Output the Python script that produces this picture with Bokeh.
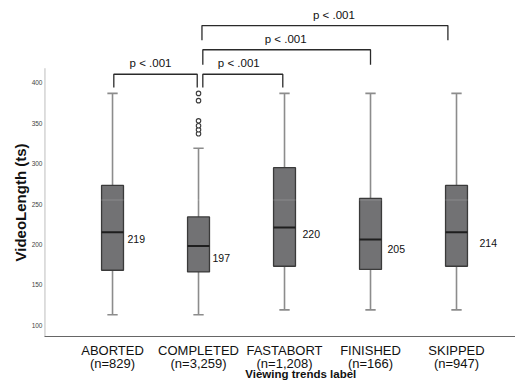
from bokeh.plotting import figure
from bokeh.models import Range1d, FixedTicker, ColumnDataSource, Span, Title
from bokeh.embed import file_html
from bokeh.resources import INLINE
from bokeh.core.properties import value

# ---------------- data ----------------
categories = ["ABORTED", "COMPLETED", "FASTABORT", "FINISHED", "SKIPPED"]
counts = ["829", "3,259", "1,208", "166", "947"]
lower_whisker = [113, 113, 119, 119, 119]
q1 = [168, 166, 173, 169, 173]
median = [215, 198, 221, 206, 215]
q3 = [273, 234, 295, 257, 273]
upper_whisker = [387, 319, 387, 387, 387]
median_labels = ["219", "197", "220", "205", "214"]
outlier_category = ["COMPLETED"] * 6
outlier_values = [337, 342, 347, 353, 378, 387]
comparisons = [("ABORTED", "COMPLETED"), ("COMPLETED", "FASTABORT"),
               ("COMPLETED", "FINISHED"), ("COMPLETED", "SKIPPED")]
p_labels = ["p < .001", "p < .001", "p < .001", "p < .001"]
y_ticks = [100, 150, 200, 250, 300, 350, 400]
x_title = "Viewing trends label"
y_title = "VideoLength (ts)"

# ---------------- layout / style ----------------
FONT = "Liberation Sans"
box_w = 0.255
cap_w = 0.12
label_dx = [4, 3, 7, 6, 12]          # px right of the box
label_dy = [7, 12, 7, 9, 11]         # px below the median
bracket_top = [410.7, 410.7, 441.0, 471.0]
bracket_leg = [16.4, 16.4, 18.5, 18.3]
bracket_dx0 = [0.015, 0.05, 0.05, 0.04]
bracket_dx1 = [-0.015, -0.02, 0.0, -0.1]
ptext_dx = [-5, -4, -1, 9]
X0, X1 = 0.209, 5.686
Y0, Y1 = 86, 502

pos = {c: i + 1 for i, c in enumerate(categories)}
xs = [pos[c] for c in categories]

p = figure(width=515, height=383, output_backend="svg", toolbar_location=None,
           x_range=Range1d(X0, X1), y_range=Range1d(Y0, Y1),
           min_border_left=44, min_border_right=0, min_border_top=0,
           min_border_bottom=46, background_fill_color="white",
           border_fill_color="white", outline_line_color=None)
p.xgrid.visible = False
p.ygrid.visible = False

# y axis
p.yaxis.ticker = FixedTicker(ticks=y_ticks)
p.yaxis.axis_line_color = None
p.yaxis.major_tick_line_color = None
p.yaxis.minor_tick_line_color = None
p.yaxis.major_tick_out = 0
p.yaxis.major_tick_in = 0
p.yaxis.minor_tick_out = 0
p.yaxis.major_label_text_font = FONT
p.yaxis.major_label_text_font_size = "6.5px"
p.yaxis.major_label_text_color = "#444444"
p.yaxis.major_label_standoff = 2

# x axis
p.xaxis.ticker = FixedTicker(ticks=xs)
p.xaxis.major_label_overrides = {pos[c]: f"{c}\n(n={n})" for c, n in zip(categories, counts)}
p.xaxis.axis_line_color = "#666666"
p.xaxis.axis_line_width = 1.2
p.xaxis.major_tick_line_color = None
p.xaxis.minor_tick_line_color = None
p.xaxis.major_tick_out = 0
p.xaxis.major_tick_in = 0
p.xaxis.minor_tick_out = 0
p.xaxis.major_label_text_font = FONT
p.xaxis.major_label_text_font_size = "13px"
p.xaxis.major_label_text_color = "#111111"
p.xaxis.major_label_text_line_height = 0.92
p.xaxis.major_label_standoff = 6
# x title as the axis label, nudged right with non-breaking spaces
p.xaxis.axis_label = "\u00a0" * 13 + x_title
p.xaxis.axis_label_standoff = -6
p.xaxis.axis_label_text_font = FONT
p.xaxis.axis_label_text_font_size = "11.5px"
p.xaxis.axis_label_text_font_style = "bold"
p.xaxis.axis_label_text_color = "#111111"

p.add_layout(Title(text=y_title, align="left", offset=75,
                   text_font=FONT, text_font_size="15px", text_font_style="bold",
                   text_color="#111111", standoff=0), "left")

# partial left axis line
p.segment(x0=[X0 + 0.003], y0=[Y0], x1=[X0 + 0.003], y1=[418], line_color="#aaaaaa", line_width=1.2)

src = ColumnDataSource(dict(
    x=xs, lw=lower_whisker, q1=q1, med=median, q3=q3, uw=upper_whisker,
    xl=[x - box_w / 2 for x in xs], xr=[x + box_w / 2 for x in xs],
    cl=[x - cap_w / 2 for x in xs], cr=[x + cap_w / 2 for x in xs],
    lab=median_labels, dx=label_dx, dy=label_dy,
))

wcol = "#8c8c8c"
p.segment(x0="x", y0="q3", x1="x", y1="uw", source=src, line_color=wcol, line_width=1.6)
p.segment(x0="x", y0="q1", x1="x", y1="lw", source=src, line_color=wcol, line_width=1.6)
p.segment(x0="cl", y0="uw", x1="cr", y1="uw", source=src, line_color=wcol, line_width=1.6)
p.segment(x0="cl", y0="lw", x1="cr", y1="lw", source=src, line_color=wcol, line_width=1.6)
p.vbar(x="x", width=box_w, bottom="q1", top="q3", source=src,
       fill_color="#727274", line_color="#3a3a3a", line_width=1.3)
p.segment(x0="xl", y0="med", x1="xr", y1="med", source=src, line_color="#1e1e1e", line_width=2)
p.add_layout(Span(location=255, dimension="width", line_color="white", line_alpha=0.18, line_width=1))

p.text(x="xr", y="med", text="lab", source=src, x_offset="dx", y_offset="dy",
       text_font=value(FONT), text_font_size="10.5px", text_color="#111111",
       text_align="left", text_baseline="middle")

# outliers
p.scatter(x=[pos[c] for c in outlier_category], y=outlier_values, marker="circle", size=4.5,
          fill_color="white", line_color="#3c3c3c", line_width=1.1)

# significance brackets
for i, (a, b) in enumerate(comparisons):
    x0 = pos[a] + bracket_dx0[i]
    x1 = pos[b] + bracket_dx1[i]
    top = bracket_top[i]
    bot = top - bracket_leg[i]
    p.line(x=[x0, x0, x1, x1], y=[bot, top, top, bot], line_color="#2a2a2a", line_width=1.3)
    p.text(x=[(x0 + x1) / 2], y=[top + 13.6], text=[p_labels[i]], x_offset=ptext_dx[i],
           text_font=value(FONT), text_font_size="11.5px", text_color="#111111",
           text_align="center", text_baseline="middle")

open("out.html", "w").write(file_html(p, INLINE))
